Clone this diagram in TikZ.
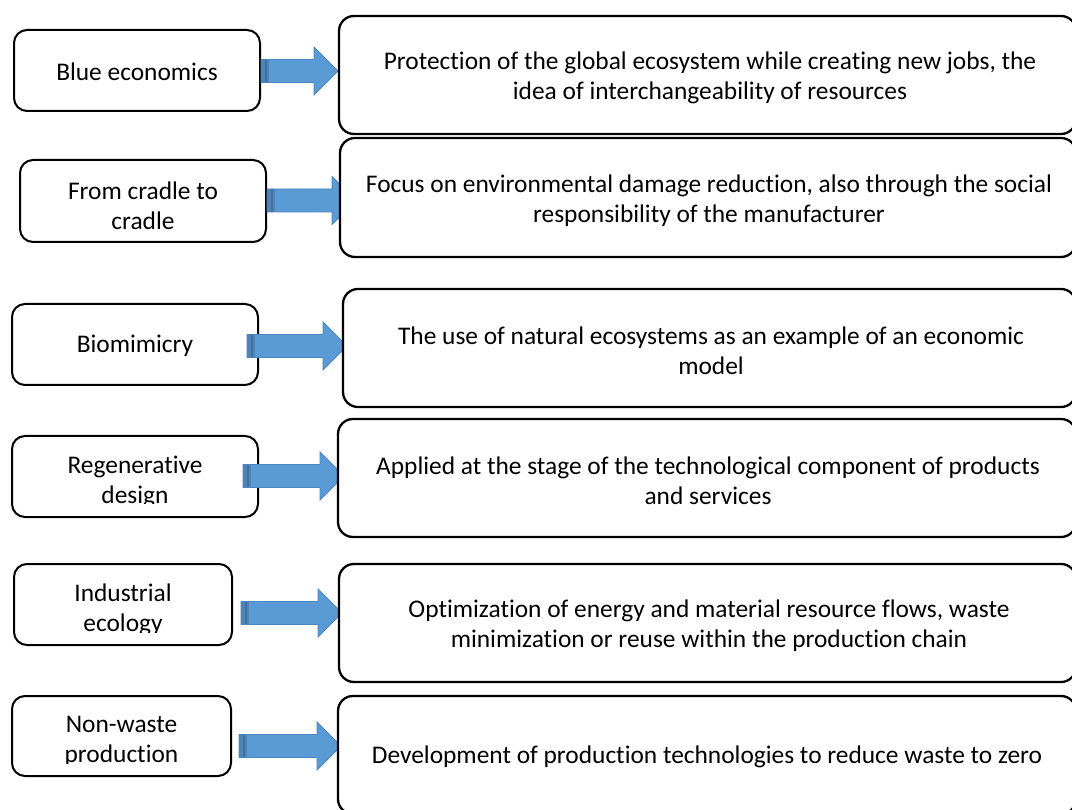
\documentclass[tikz,border=0pt]{standalone}
\usepackage{fontspec}
\setmainfont{Carlito}[Ligatures={NoCommon,NoContextual}]
\usetikzlibrary{calc}
\definecolor{arrowblue}{HTML}{5B9BD5}
\definecolor{arrowedge}{HTML}{4A86C0}
\definecolor{arrowdark}{HTML}{41719C}
\definecolor{arrowmid}{HTML}{4F84B8}
\tikzset{
  lbox/.style={draw=black, line width=2pt, rounded corners=13pt, fill=white, inner sep=0pt},
  rbox/.style={draw=black, line width=2.3pt, rounded corners=15pt, fill=white, inner sep=0pt},
  btext/.style={align=center, font=\fontsize{25.4}{30}\selectfont, inner sep=0pt},
  arrowsty/.style={fill=arrowblue, draw=arrowedge, line width=0.8pt, line join=miter},
}
\newcommand\myblockarrow[2]{%
  \filldraw[arrowsty] let \p1=(#1), \p2=(#2) in
    (\x1,\y1+11.5pt) -- (\x2-24pt,\y1+11.5pt) -- (\x2-24pt,\y1+24pt) -- (\x2,\y1)
    -- (\x2-24pt,\y1-24pt) -- (\x2-24pt,\y1-11.5pt) -- (\x1,\y1-11.5pt) -- cycle;
  \fill[arrowmid] let \p1=(#1) in (\x1+0.4pt,\y1+11.1pt) rectangle (\x1+8pt,\y1-11.1pt);
  \fill[arrowdark] let \p1=(#1) in (\x1+3.5pt,\y1+11.1pt) rectangle (\x1+5.5pt,\y1-11.1pt);
}
\begin{document}
\begin{tikzpicture}[x=1pt, y=-1pt]
\useasboundingbox (0,0) rectangle (1072,810);
\clip (0,0) rectangle (1072,810);

% left boxes
\node[lbox, minimum width=246pt, minimum height=81pt] (L1) at (137,70.5) {};
\node[lbox, minimum width=246pt, minimum height=82pt] (L2) at (143,201) {};
\node[lbox, minimum width=246pt, minimum height=81pt] (L3) at (135,344.5) {};
\node[lbox, minimum width=246pt, minimum height=81pt] (L4) at (135,476.5) {};
\node[lbox, minimum width=218pt, minimum height=81pt] (L5) at (123,604.5) {};
\node[lbox, minimum width=219pt, minimum height=80pt] (L6) at (121.5,736) {};

% left texts
\node[btext] (L1t) at (137,72) {Blue economics};
\node[btext] (L2t) at (143,206) {From cradle to\\cradle};
\node[btext] (L3t) at (135,346) {Biomimicry};
\begin{scope}
  \clip (0,400) rectangle (300,503);
  \node[btext] (L4t) at (135,482) {Regenerative\\design};
\end{scope}
\begin{scope}
  \clip (0,550) rectangle (300,632);
  \node[btext] (L5t) at (123,609.5) {Industrial\\ecology};
\end{scope}
\begin{scope}
  \clip (0,690) rectangle (300,763);
  \node[btext] (L6t) at (121.5,741.5) {Non-waste\\production};
\end{scope}

% arrow end points
\coordinate (a1s) at (261,71);   \coordinate (a1t) at (338,71);
\coordinate (a2s) at (267,200.5);\coordinate (a2t) at (356,200.5);
\coordinate (a3s) at (247,346);  \coordinate (a3t) at (347,346);
\coordinate (a4s) at (243,476);  \coordinate (a4t) at (344,476);
\coordinate (a5s) at (241,613);  \coordinate (a5t) at (342,613);
\coordinate (a6s) at (239,746);  \coordinate (a6t) at (341,746);
\myblockarrow{a1s}{a1t}
\myblockarrow{a2s}{a2t}
\myblockarrow{a3s}{a3t}
\myblockarrow{a4s}{a4t}
\myblockarrow{a5s}{a5t}
\myblockarrow{a6s}{a6t}

% right boxes
\node[rbox, minimum width=737pt, minimum height=118pt] (R1) at (707.5,75) {};
\node[rbox, minimum width=736pt, minimum height=119pt] (R2) at (708,197.5) {};
\node[rbox, minimum width=733pt, minimum height=118pt] (R3) at (709.5,348) {};
\node[rbox, minimum width=738pt, minimum height=118pt] (R4) at (707,478) {};
\node[rbox, minimum width=737pt, minimum height=118pt] (R5) at (707.5,623) {};
\node[rbox, minimum width=738pt, minimum height=118pt] (R6) at (707,755) {};

% right texts
\node[btext] (R1t) at (710,78) {Protection of the global ecosystem while creating new jobs, the\\idea of interchangeability of resources};
\node[btext] (R2t) at (709,201) {Focus on environmental damage reduction, also through the social\\responsibility of the manufacturer};
\node[btext] (R3t) at (711,351) {The use of natural ecosystems as an example of an economic\\model};
\node[btext] (R4t) at (708,481) {Applied at the stage of the technological component of products\\and services};
\node[btext] (R5t) at (709,626) {Optimization of energy and material resource flows, waste\\minimization or reuse within the production chain};
\node[btext] (R6t) at (707,756.5) {Development of production technologies to reduce waste to zero};
\end{tikzpicture}
\end{document}
